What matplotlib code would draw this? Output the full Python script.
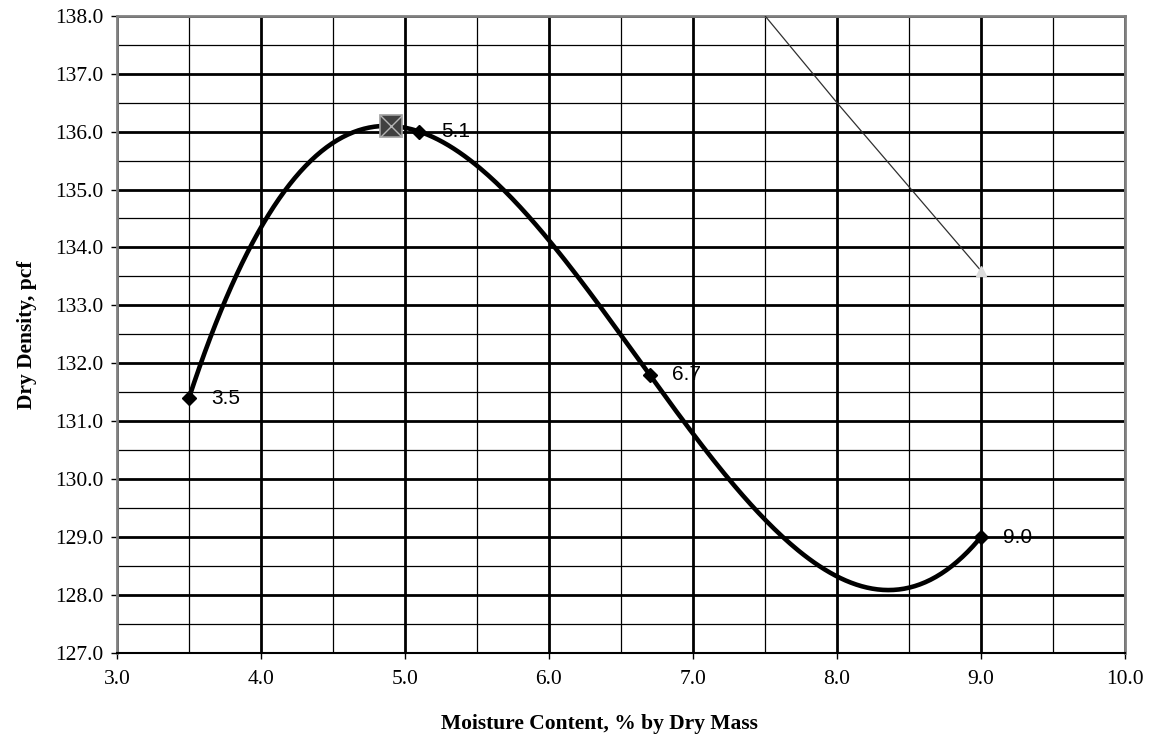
import numpy as np
import matplotlib
matplotlib.use("Agg")
import matplotlib.pyplot as plt
from matplotlib.ticker import MultipleLocator, FormatStrFormatter

# compaction test points
moisture = [3.5, 5.1, 6.7, 9.0]
density = [131.4, 136.0, 131.8, 129.0]
point_labels = ["3.5", "5.1", "6.7", "9.0"]

# max dry density / optimum moisture
peak_x = [4.9]
peak_y = [136.1]

# zero air voids line
zav_x = [5.0, 6.0, 7.0, 8.0, 9.0]
zav_y = [146.0, 142.7, 139.5, 136.5, 133.6]

serif = "Liberation Serif"
sans = "Liberation Sans"

fig = plt.figure(figsize=(11.49, 7.38), dpi=100)
ax = fig.add_axes([0.1018, 0.1152, 0.8772, 0.8635])

# grid first so data sits on top
ax.xaxis.set_major_locator(MultipleLocator(1.0))
ax.xaxis.set_minor_locator(MultipleLocator(0.5))
ax.yaxis.set_major_locator(MultipleLocator(1.0))
ax.yaxis.set_minor_locator(MultipleLocator(0.5))
ax.grid(which="major", color="black", linewidth=2.0)
ax.grid(which="minor", color="black", linewidth=0.9)
ax.set_axisbelow(True)

# polynomial trendline through the test points
coef = np.polyfit(moisture, density, 3)
xs = np.linspace(min(moisture), max(moisture), 300)
ax.plot(xs, np.polyval(coef, xs), color="black", linewidth=3.3, zorder=3)

ax.plot(moisture, density, linestyle="none", marker="D", markersize=7,
        color="black", zorder=4)

ax.plot(zav_x, zav_y, color="#303030", linewidth=0.9, marker="^",
        markersize=7, markerfacecolor="#dcdcdc", markeredgecolor="#dcdcdc",
        markevery=[len(zav_x) - 1], zorder=3)

ax.plot(peak_x, peak_y, linestyle="none", marker="s", markersize=16.5,
        markerfacecolor="#404040", markeredgecolor="#a0a0a0",
        markeredgewidth=1.2, zorder=5)
ax.plot(peak_x, peak_y, linestyle="none", marker="x", markersize=15.5,
        markeredgecolor="#b4b4b4", markeredgewidth=1.0, zorder=6)

for x, y, t in zip(moisture, density, point_labels):
    ax.annotate(t, (x, y), xytext=(16, 0), textcoords="offset points",
                ha="left", va="center", fontsize=15, family=sans, zorder=7)

ax.set_xlim(3.0, 10.0)
ax.set_ylim(127.0, 138.0)
ax.xaxis.set_major_formatter(FormatStrFormatter("%.1f"))
ax.yaxis.set_major_formatter(FormatStrFormatter("%.1f"))
ax.tick_params(which="major", direction="out", length=4.5, width=1,
               labelsize=15.5)
ax.tick_params(axis="x", pad=8)
ax.tick_params(axis="y", pad=5)
ax.tick_params(which="minor", length=0)
for lab in ax.get_xticklabels() + ax.get_yticklabels():
    lab.set_family(serif)

for side in ["left", "top", "right"]:
    ax.spines[side].set_color("#808080")
    ax.spines[side].set_linewidth(2.0)
ax.spines["bottom"].set_color("black")
ax.spines["bottom"].set_linewidth(1.5)

ax.set_xlabel("Moisture Content, % by Dry Mass", family=serif,
              fontweight="bold", fontsize=15.5)
ax.xaxis.set_label_coords(0.479, -0.095)
ax.set_ylabel("Dry Density, pcf", family=serif, fontweight="bold",
              fontsize=15.5, labelpad=13)

fig.savefig("out.png", dpi=100)
